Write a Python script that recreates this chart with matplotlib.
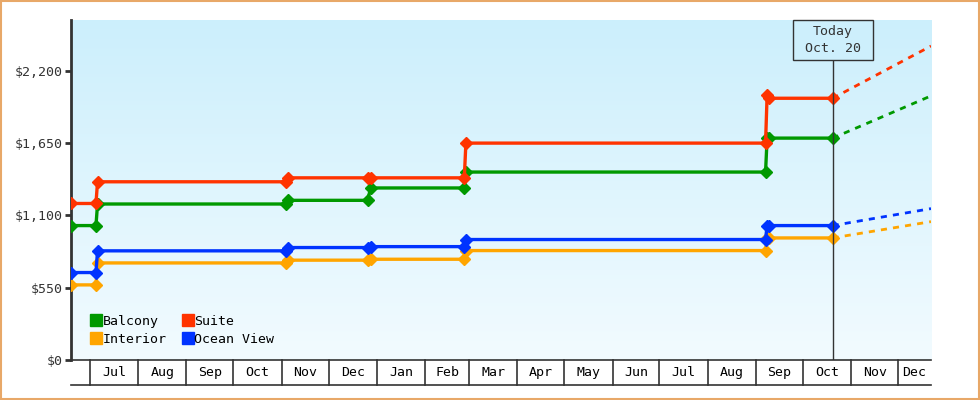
import matplotlib
matplotlib.use("Agg")
import matplotlib.pyplot as plt
import matplotlib.dates as mdates
import matplotlib.transforms as mtransforms
from matplotlib.patches import Rectangle
from matplotlib.lines import Line2D
import numpy as np
import pandas as pd

plt.rcParams["font.family"] = ["DejaVu Sans Mono"]

# price history (sampled dates), one list per cabin type
dates = ["2022-06-19", "2022-07-05", "2022-07-06", "2022-11-04", "2022-11-05",
         "2022-12-26", "2022-12-28", "2023-02-26", "2023-02-27", "2023-09-07",
         "2023-09-08", "2023-09-09", "2023-10-20"]
balcony = [1022, 1022, 1186, 1186, 1214, 1214, 1308, 1308, 1429, 1429, 1687, 1687, 1687]
suite = [1190, 1190, 1355, 1355, 1385, 1385, 1385, 1385, 1649, 1649, 2015, 1990, 1990]
ocean_view = [665, 665, 830, 830, 855, 855, 862, 862, 916, 916, 1022, 1022, 1022]
interior = [571, 571, 738, 738, 759, 759, 766, 766, 832, 832, 928, 928, 928]

# projected prices after today
proj_dates = ["2023-10-20", "2023-12-22"]
balcony_proj = [1687, 2008]
suite_proj = [1990, 2387]
ocean_view_proj = [1022, 1151]
interior_proj = [928, 1052]

today = "2023-10-20"
today_label = "Today\nOct. 20"
x_start, x_end = "2022-06-19", "2023-12-22"
y_ticks = [0, 550, 1100, 1650, 2200]

colors = {"Balcony": "#009900", "Suite": "#ff3300",
          "Interior": "#ffa500", "Ocean View": "#0033ff"}
dark = "#333333"

d = pd.to_datetime(dates)
dp = pd.to_datetime(proj_dates)
x0, x1 = pd.Timestamp(x_start), pd.Timestamp(x_end)

fig = plt.figure(figsize=(9.8, 4), dpi=100)
ax = fig.add_axes([71 / 980, 40 / 400, 860 / 980, 340 / 400])

# gradient background
grad = np.linspace(0, 1, 256).reshape(-1, 1)
top = np.array([0xcc, 0xef, 0xfc]) / 255
bot = np.array([0xf2, 0xfb, 0xff]) / 255
img = top[None, None, :] * (1 - grad[:, :, None]) + bot[None, None, :] * grad[:, :, None]
ax.imshow(img, extent=[0, 1, 0, 1], transform=ax.transAxes, aspect="auto", zorder=0)

series = [("Interior", interior, interior_proj),
          ("Balcony", balcony, balcony_proj),
          ("Ocean View", ocean_view, ocean_view_proj),
          ("Suite", suite, suite_proj)]
for name, vals, proj in series:
    c = colors[name]
    ax.plot(d, vals, color=c, lw=2.4, marker="D", ms=6.3, zorder=3)
    ax.plot(dp, proj, color=c, lw=2, ls=(0, (2.2, 2.2)), zorder=3)

ax.set_xlim(x0, x1)
ax.set_ylim(0, 2585)
ax.set_yticks(y_ticks)
ax.yaxis.set_major_formatter(plt.FuncFormatter(lambda v, p: f"${v:,.0f}"))
ax.tick_params(axis="y", direction="out", length=4, width=2, color=dark,
               labelsize=9.5, labelcolor=dark, pad=2)
ax.tick_params(axis="x", bottom=False, labelbottom=False)
for s in ["top", "right"]:
    ax.spines[s].set_visible(False)
ax.spines["left"].set_color(dark)
ax.spines["left"].set_linewidth(2)
ax.spines["bottom"].set_color(dark)
ax.spines["bottom"].set_linewidth(1.2)

# month boxes under the axis
trans = mtransforms.blended_transform_factory(ax.transData, ax.transAxes)
box_h = 25 / 340
months = pd.date_range(x0, x1, freq="MS")
edges = [x0] + list(months) + [x1]
for m in months:
    ax.add_line(Line2D([m, m], [0, -box_h], transform=trans, color=dark,
                       lw=1.2, clip_on=False))
ax.add_line(Line2D([0, 1], [-box_h, -box_h], transform=ax.transAxes, color=dark,
                   lw=1.2, clip_on=False))
for a, b in zip(edges[:-1], edges[1:]):
    if a < months[0]:
        continue
    mid = a + (b - a) / 2
    ax.text(mid, -box_h / 2, a.strftime("%b"), transform=trans, ha="center",
            va="center", fontsize=9.5, color="black", clip_on=False)

# today marker
t = pd.Timestamp(today)
box_frac = 40 / 340
ax.plot([t, t], [0, 1 - box_frac], transform=trans, color=dark, lw=1, zorder=4)
half = pd.Timedelta(days=25.7)
ax.add_patch(Rectangle((mdates.date2num(t - half), 1 - box_frac),
                       mdates.date2num(t + half) - mdates.date2num(t - half), box_frac,
                       transform=trans, facecolor="#cdeffc", edgecolor=dark,
                       lw=1, zorder=5, clip_on=False))
ax.text(t, 1 - box_frac / 2, today_label, transform=trans, ha="center",
        va="center", fontsize=9.5, color=dark, zorder=6, linespacing=1.3)

# legend
handles = [Line2D([], [], ls="none", marker="s", ms=8, color=colors[n])
           for n in ["Balcony", "Interior", "Suite", "Ocean View"]]
ax.legend(handles, ["Balcony", "Interior", "Suite", "Ocean View"], ncol=2,
          loc="lower left", bbox_to_anchor=(0.012, 0.015), frameon=False,
          handlelength=0.8, handletextpad=0.1, columnspacing=1.2,
          labelspacing=0.35, fontsize=9.5, borderaxespad=0.3)

# outer border
fig.patches.append(Rectangle((0.001, 0.002), 0.998, 0.996, transform=fig.transFigure,
                             fill=False, edgecolor="#e8a868", lw=1.5))

fig.savefig("out.png", dpi=100)
